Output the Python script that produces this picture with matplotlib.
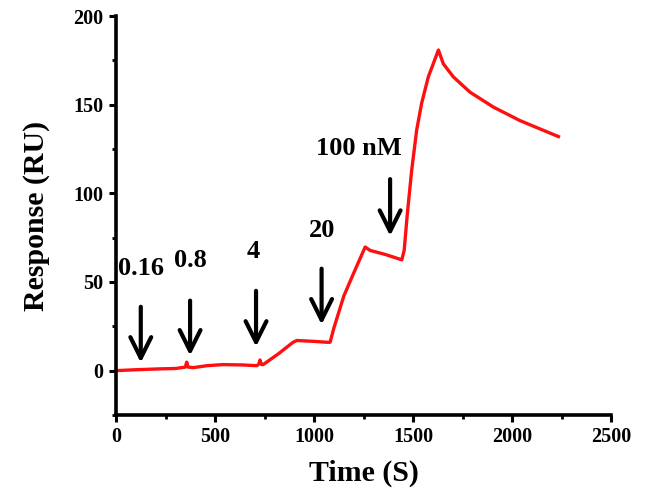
import matplotlib
matplotlib.use("Agg")
import matplotlib.pyplot as plt
from matplotlib.ticker import MultipleLocator

plt.rcParams['font.family'] = ['Liberation Serif', 'DejaVu Serif']
plt.rcParams['font.weight'] = 'bold'

# sensorgram trace
time_s = [0, 100, 222, 300, 350, 357, 364, 390, 460, 541, 640, 710, 720, 727, 734, 743,
          820, 894, 913, 1000, 1064, 1081, 1100, 1150, 1200, 1258, 1283, 1360,
          1443, 1455, 1471, 1493, 1518, 1543, 1577, 1628, 1653, 1703, 1788,
          1906, 2040, 2234]
response = [0, 0.5, 1, 1.2, 2, 4.8, 2, 1.7, 2.8, 3.4, 3.2, 2.8, 3.5, 6, 3.5, 3.4,
            9.5, 16, 17, 16.5, 16, 16, 24, 42, 55, 69.7, 67.8, 65.5,
            62.5, 67.8, 88.5, 113, 135.6, 150.7, 165.7, 180.8, 173, 165.7, 157,
            148.6, 141, 132]

# injection arrows: x position, tail y, head y, label, label x, label y
arrow_x = [125, 374, 707, 1038, 1384]
arrow_top = [36, 39.5, 45, 57.5, 108]
arrow_tip = [4.5, 8.5, 13.5, 26, 76]
labels = ['0.16', '0.8', '4', '20', '100 nM']
label_x = [127, 376, 692, 1040, 1227]
label_y = [57.5, 62, 67, 79, 125]

fig = plt.figure(figsize=(6.46, 4.94), dpi=100)
ax = fig.add_axes([0.1796, 0.16, 0.7664, 0.8076])

ax.plot(time_s, response, color='#ff1010', lw=2.4)

for x, t, h, lab, lx, ly in zip(arrow_x, arrow_top, arrow_tip, labels, label_x, label_y):
    ax.annotate('', xy=(x, h), xytext=(x, t),
                arrowprops=dict(arrowstyle='->,head_width=0.75,head_length=1.5',
                                mutation_scale=10, color='black', lw=3.0,
                                shrinkA=0, shrinkB=0))
    ax.text(lx, ly, lab, ha='center', va='center', fontsize=19, fontweight='bold')

ax.set_xlim(0, 2500)
ax.set_ylim(-25, 200)
ax.xaxis.set_major_locator(MultipleLocator(500))
ax.xaxis.set_minor_locator(MultipleLocator(250))
ax.yaxis.set_major_locator(MultipleLocator(50))
ax.yaxis.set_minor_locator(MultipleLocator(25))

for s in ['top', 'right']:
    ax.spines[s].set_visible(False)
for s in ['left', 'bottom']:
    ax.spines[s].set_linewidth(2.6)

ax.tick_params(which='major', direction='out', length=5, width=2.2, labelsize=14.5, pad=4)
ax.tick_params(which='minor', direction='out', length=3, width=2)
for lab in ax.get_xticklabels() + ax.get_yticklabels():
    lab.set_fontweight('bold')

ax.set_xlabel('Time (S)', fontsize=21.5, fontweight='bold', labelpad=9)
ax.set_ylabel('Response (RU)', fontsize=21.5, fontweight='bold', labelpad=17)

fig.savefig('out.png', dpi=100)
